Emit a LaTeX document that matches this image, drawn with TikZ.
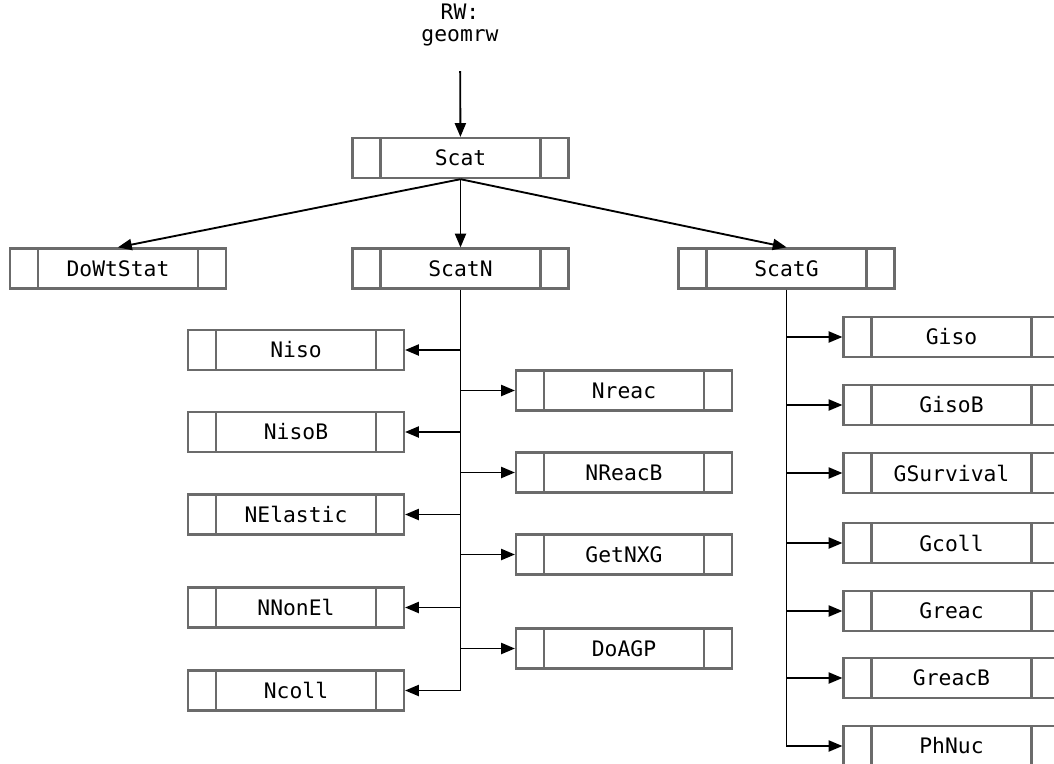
\documentclass[tikz,border=0pt]{standalone}
\usepackage{fontspec}
\newfontfamily\monofont{DejaVu Sans Mono}
\usetikzlibrary{arrows,calc}
\definecolor{boxgray}{gray}{0.42}

\tikzset{
	modbox/.style={draw=boxgray, line width=1.8pt, minimum width=162pt, minimum height=30pt,
		inner sep=0pt, font=\monofont\fontsize{16}{18}\selectfont,
		path picture={\draw[boxgray, line width=1.8pt]
			([xshift=21pt]path picture bounding box.north west) -- ([xshift=21pt]path picture bounding box.south west)
			([xshift=-21pt]path picture bounding box.north east) -- ([xshift=-21pt]path picture bounding box.south east);}},
	link/.style={->, >=triangle 45, line width=1.4pt}
}

\begin{document}
\begin{tikzpicture}[x=0.75pt, y=-0.75pt]
	
	\clip (0,0) rectangle (1054,764);
	
	\node[font=\monofont\fontsize{16}{17}\selectfont, align=center] (rw) at (460,25) {RW:\\geomrw};
	
	\node[modbox] (scat) at (460.5,158) {Scat};
	\node[modbox] (dowtstat) at (118,268.5) {DoWtStat};
	\node[modbox] (scatn) at (460.5,268.5) {ScatN};
	\node[modbox] (scatg) at (786.5,268.5) {ScatG};
	
	\node[modbox] (niso) at (296,350) {Niso};
	\node[modbox] (nisob) at (296,432) {NisoB};
	\node[modbox] (nelastic) at (296,514.5) {NElastic};
	\node[modbox] (nnonel) at (296,607.5) {NNonEl};
	\node[modbox] (ncoll) at (296,690.5) {Ncoll};
	
	\node[modbox] (nreac) at (624,390.5) {Nreac};
	\node[modbox] (nreacb) at (624,472.5) {NReacB};
	\node[modbox] (getnxg) at (624,554.5) {GetNXG};
	\node[modbox] (doagp) at (624,648.5) {DoAGP};
	
	\node[modbox] (giso) at (951.5,337) {Giso};
	\node[modbox] (gisob) at (951.5,405) {GisoB};
	\node[modbox] (gsurvival) at (951.5,473) {GSurvival};
	\node[modbox] (gcoll) at (951.5,543) {Gcoll};
	\node[modbox] (greac) at (951.5,611) {Greac};
	\node[modbox] (greacb) at (951.5,678) {GreacB};
	\node[modbox] (phnuc) at (951.5,746) {PhNuc};
	
	\draw[link, shorten <=15pt] (rw) -- (scat);
	\draw[link] (scat.south) -- (dowtstat.north);
	\draw[link] (scat.south) -- (scatn.north);
	\draw[link] (scat.south) -- (scatg.north);
	
	% ScatN branch
	\draw[link] (scatn.south) |- (ncoll.east);
	\foreach \n in {niso,nisob,nelastic,nnonel}
		\draw[link] (scatn.south |- \n.east) -- (\n.east);
	\foreach \n in {nreac,nreacb,getnxg,doagp}
		\draw[link] (scatn.south |- \n.west) -- (\n.west);
	
	% ScatG branch
	\draw[link] (scatg.south) |- (phnuc.west);
	\foreach \n in {giso,gisob,gsurvival,gcoll,greac,greacb}
		\draw[link] (scatg.south |- \n.west) -- (\n.west);
	
\end{tikzpicture}
\end{document}
